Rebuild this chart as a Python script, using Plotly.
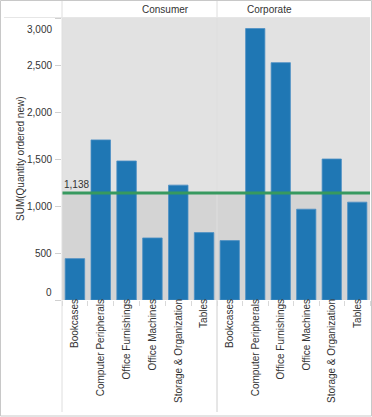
import plotly.graph_objects as go

# ---------------- data ----------------
segments = ["Consumer", "Corporate"]
categories = ["Bookcases", "Computer Peripherals", "Office Furnishings",
              "Office Machines", "Storage & Organization", "Tables"]
consumer_values = [440, 1703, 1479, 660, 1222, 717]
corporate_values = [632, 2888, 2525, 966, 1500, 1041]
reference_value = 1138
y_tick_values = [0, 500, 1000, 1500, 2000, 2500, 3000]
y_tick_labels = ["0", "500", "1,000", "1,500", "2,000", "2,500", "3,000"]
y_title = "SUM(Quantity ordered new)"

# ---------------- layout constants ----------------
W, H = 372, 417
ML, MR, MT, MB = 62, 2, 18, 117
PW, PH = W - ML - MR, H - MT - MB
FONT = "Liberation Sans, Arial, sans-serif"
TXT = "#333333"
BLUE = "#1f77b4"
GREEN = "#37995f"
split = 155 / PW


def px_x(px):
    return (px - ML) / PW


def px_y(py):
    return (H - MB - py) / PH


fig = go.Figure()
series = [consumer_values, corporate_values]
for i, seg in enumerate(segments):
    fig.add_trace(go.Bar(
        x=categories, y=series[i], name=seg,
        xaxis="x" if i == 0 else "x2", yaxis="y",
        marker=dict(color=BLUE, line=dict(color="#4d8fc4", width=0.8)),
        showlegend=False,
    ))

xaxis_common = dict(
    type="category", showgrid=False, zeroline=False, showline=False,
    ticks="outside", tickson="boundaries", ticklen=5, tickcolor="#d9d9d9",
    tickangle=-90, tickfont=dict(family=FONT, size=10, color=TXT),
    ticklabelstandoff=-4,
    fixedrange=True,
)

shapes = [
    dict(type="rect", xref="paper", yref="paper", x0=0, x1=1, y0=0, y1=1,
         fillcolor="#e2e2e2", line=dict(width=0), layer="below"),
    dict(type="rect", xref="paper", yref="y", x0=0, x1=1, y0=0, y1=reference_value,
         fillcolor="#d4d4d4", line=dict(width=0), layer="below"),
]
shapes.append(dict(type="line", xref="paper", yref="y", x0=0, x1=1,
                   y0=reference_value, y1=reference_value,
                   line=dict(color=GREEN, width=3), layer="above"))
line_col = "#dedede"
shapes += [
    dict(type="line", xref="paper", yref="paper", x0=split, x1=split,
         y0=px_y(412), y1=px_y(0), line=dict(color=line_col, width=1), layer="below"),
    dict(type="line", xref="paper", yref="paper", x0=split, x1=split,
         y0=px_y(412), y1=px_y(300), line=dict(color=line_col, width=1)),
    dict(type="line", xref="paper", yref="paper", x0=0, x1=0,
         y0=px_y(412), y1=px_y(0), line=dict(color=line_col, width=1)),
    dict(type="line", xref="paper", yref="paper", x0=px_x(4), x1=px_x(370),
         y0=px_y(17.5), y1=px_y(17.5), line=dict(color="#e6e6e6", width=1)),
    dict(type="rect", xref="paper", yref="paper", x0=px_x(0.5), x1=px_x(371.5),
         y0=px_y(416), y1=px_y(0.5), line=dict(color="#c8c8c8", width=1)),
]

annotations = []
centers = [split / 2, (split + 1) / 2]
for seg, cx in zip(segments, centers):
    annotations.append(dict(text=seg, xref="paper", yref="paper", x=cx, y=1,
                            yanchor="bottom", yshift=1, showarrow=False,
                            font=dict(family=FONT, size=10, color=TXT)))
for v, lab in zip(y_tick_values, y_tick_labels):
    shift = 0
    if v == y_tick_values[0]:
        shift = 8
    elif v == y_tick_values[-1]:
        shift = -11
    annotations.append(dict(text=lab, xref="paper", yref="y", x=0, y=v,
                            xanchor="right", yanchor="middle", xshift=-8, yshift=shift,
                            showarrow=False,
                            font=dict(family=FONT, size=10, color=TXT)))
annotations.append(dict(text=y_title, xref="paper", yref="paper", x=px_x(20), y=0.5,
                        xanchor="center", yanchor="middle", textangle=-90,
                        showarrow=False, font=dict(family=FONT, size=10, color=TXT)))
annotations.append(dict(text=f"{reference_value:,}", xref="paper", yref="y", x=0,
                        y=reference_value, xanchor="left", yanchor="bottom",
                        xshift=0, yshift=1, showarrow=False,
                        font=dict(family=FONT, size=10, color=TXT)))

fig.update_layout(
    width=W, height=H,
    margin=dict(l=ML, r=MR, t=MT, b=MB, pad=0),
    paper_bgcolor="white", plot_bgcolor="rgba(0,0,0,0)",
    bargap=0.245,
    xaxis=dict(domain=[0, split], anchor="y", **xaxis_common),
    xaxis2=dict(domain=[split, 1], anchor="y", **xaxis_common),
    yaxis=dict(range=[0, 3000], tickvals=y_tick_values, showticklabels=False,
               ticks="outside", ticklen=6, tickcolor="#d0d0d0",
               showgrid=False, zeroline=False, showline=False, fixedrange=True),
    shapes=shapes,
    annotations=annotations,
    font=dict(family=FONT, size=10, color=TXT),
)

fig.write_html("out.html", config={"displayModeBar": False},
               post_script="document.body.style.margin='0';document.body.style.overflow='hidden';")
